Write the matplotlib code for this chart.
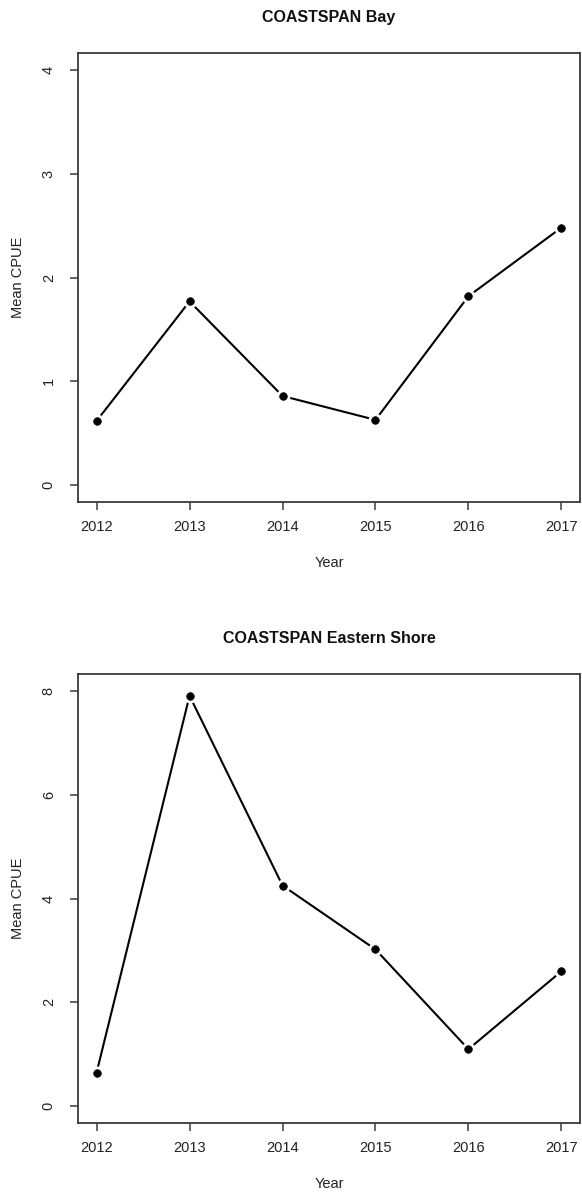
import matplotlib
matplotlib.use("Agg")
import matplotlib.pyplot as plt

# Data
years = [2012, 2013, 2014, 2015, 2016, 2017]
bay_cpue = [0.62, 1.77, 0.86, 0.63, 1.82, 2.48]
shore_cpue = [0.65, 7.90, 4.25, 3.02, 1.10, 2.60]
bay_yticks = [0, 1, 2, 3, 4]
shore_yticks = [0, 2, 4, 6, 8]

plt.rcParams['font.family'] = ['Liberation Sans', 'DejaVu Sans']

W, H = 582, 1197
fig = plt.figure(figsize=(W / 100, H / 100), dpi=100, facecolor='white')


def r_panel(rect, y, yticks, title):
    ax = fig.add_axes(rect)
    # R type="b": line with gaps around each point
    ax.plot(years, y, color='black', lw=1.5, zorder=2)
    ax.plot(years, y, 'o', color='black', ms=5.5, mec='white', mew=4.5, zorder=3)
    ax.plot(years, y, 'o', color='black', ms=5.5, mec='black', mew=0.5, zorder=4)

    span = yticks[-1] - yticks[0]
    ax.set_ylim(yticks[0] - 0.04 * span, yticks[-1] + 0.04 * span)
    ax.set_xlim(years[0] - 0.04 * 5, years[-1] + 0.04 * 5)
    ax.set_xticks(years)
    ax.set_yticks(yticks)
    ax.set_yticklabels([str(v) for v in yticks], rotation=90, va='center')

    for s in ax.spines.values():
        s.set_color('#3a3a3a')
        s.set_linewidth(1.3)
    ax.tick_params(axis='both', colors='#3a3a3a', length=6, width=1.1,
                   labelsize=10.5, labelcolor='#222222')
    ax.tick_params(axis='x', pad=7)
    ax.tick_params(axis='y', pad=10)

    ax.text(0.5, 1.078, title, transform=ax.transAxes, ha='center', va='center',
            fontsize=11.5, fontweight='bold', color='#111111')
    ax.set_xlabel('Year', fontsize=10.5, color='#222222', va='center')
    ax.xaxis.set_label_coords(0.5, -0.135)
    ax.set_ylabel('Mean CPUE', fontsize=10.5, color='#222222', va='center')
    ax.yaxis.set_label_coords(-0.12, 0.5)
    return ax


left = 78 / W
width = (580 - 78) / W
height = (502 - 53) / H
r_panel([left, 1 - 502 / H, width, height], bay_cpue, bay_yticks, 'COASTSPAN Bay')
r_panel([left, 1 - 1123 / H, width, height], shore_cpue, shore_yticks,
        'COASTSPAN Eastern Shore')

fig.savefig('out.png', dpi=100, facecolor='white')
